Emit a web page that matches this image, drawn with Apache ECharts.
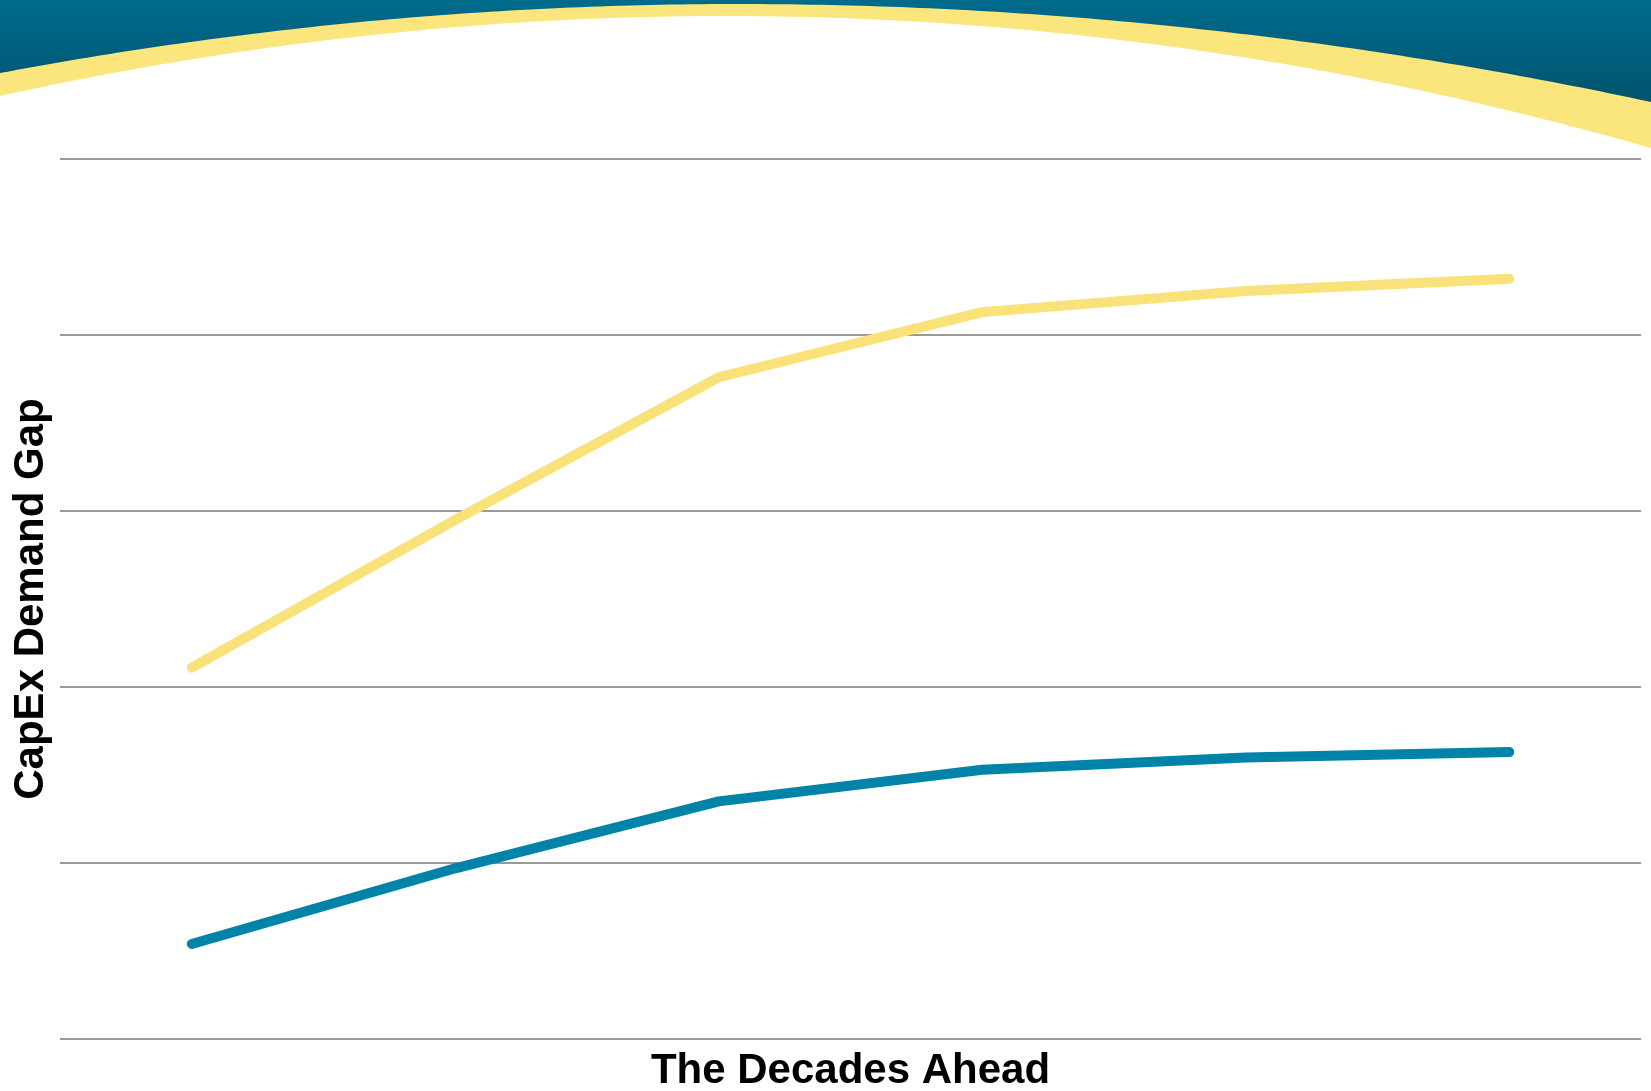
<!DOCTYPE html>
<html>
<head>
<meta charset="utf-8">
<title>CapEx Demand Gap</title>
<script src="https://cdn.jsdelivr.net/npm/echarts@6/dist/echarts.min.js"></script>
<style>
  html, body { margin: 0; padding: 0; background: #fff; }
  #main { width: 1651px; height: 1091px; }
</style>
</head>
<body>
<div id="main"></div>
<script>
// decades on the x axis (labels are not shown in the original)
const decades = ['Decade 1', 'Decade 2', 'Decade 3', 'Decade 4', 'Decade 5', 'Decade 6'];
// upper (yellow) and lower (blue) curves on a 0-5 grid
const upperValues = [2.11, 2.95, 3.76, 4.13, 4.25, 4.32];
const lowerValues = [0.54, 0.97, 1.35, 1.53, 1.60, 1.63];

const W = 1651;

// decorative banner edge: asymmetric parabola through left, peak and right
function bannerCurve(peakX, peakY, leftY, rightY) {
    const kL = (leftY - peakY) / (peakX * peakX);
    const kR = (rightY - peakY) / ((W - peakX) * (W - peakX));
    const pts = [];
    for (let x = 0; x <= W; x += 10) {
        const dx = x - peakX;
        const k = dx < 0 ? kL : kR;
        pts.push([x, peakY + k * dx * dx]);
    }
    pts.push([W, rightY]);
    return pts;
}

const outer = bannerCurve(737, 4, 73, 102);
const inner = bannerCurve(726, 16, 96, 148);

const option = {
    animation: false,
    backgroundColor: '#ffffff',
    graphic: [
        {
            type: 'rect', z: -10, silent: true,
            shape: {x: 0, y: 0, width: W, height: 115},
            style: {
                fill: new echarts.graphic.LinearGradient(0, 0, 0, 1, [
                    {offset: 0, color: '#006b8c'},
                    {offset: 1, color: '#00516a'}
                ])
            }
        },
        {
            type: 'polygon', z: -9, silent: true,
            shape: {points: outer.concat([[W, 170], [0, 170]])},
            style: {fill: '#fbe57d'}
        },
        {
            type: 'polygon', z: -8, silent: true,
            shape: {points: inner.concat([[W, 170], [0, 170]])},
            style: {fill: '#ffffff'}
        }
    ],
    grid: {
        left: 60,
        right: 10,
        top: 159,
        bottom: 52,
        outerBoundsMode: 'none'
    },
    xAxis: {
        type: 'category',
        data: decades,
        boundaryGap: true,
        name: 'The Decades Ahead',
        nameLocation: 'middle',
        nameGap: 11,
        nameTextStyle: {
            fontFamily: 'Liberation Sans, Arial, sans-serif',
            fontWeight: 'bold',
            fontSize: 42,
            color: '#000'
        },
        axisLine: {show: false},
        axisTick: {show: false},
        axisLabel: {show: false}
    },
    yAxis: {
        type: 'value',
        min: 0,
        max: 5,
        interval: 1,
        name: 'CapEx Demand Gap',
        nameLocation: 'middle',
        nameGap: 8,
        nameTextStyle: {
            fontFamily: 'Liberation Sans, Arial, sans-serif',
            fontWeight: 'bold',
            fontSize: 42,
            color: '#000'
        },
        axisLine: {show: false},
        axisTick: {show: false},
        axisLabel: {show: false},
        splitLine: {
            show: true,
            lineStyle: {color: '#9a9a9a', width: 2}
        }
    },
    series: [
        {
            name: 'Upper',
            type: 'line',
            data: upperValues,
            symbol: 'none',
            lineStyle: {color: '#f9e27a', width: 10, cap: 'round', join: 'round'}
        },
        {
            name: 'Lower',
            type: 'line',
            data: lowerValues,
            symbol: 'none',
            lineStyle: {color: '#0083a8', width: 10, cap: 'round', join: 'round'}
        }
    ]
};

const myChart = echarts.init(document.getElementById('main'));
myChart.setOption(option);
</script>
</body>
</html>
